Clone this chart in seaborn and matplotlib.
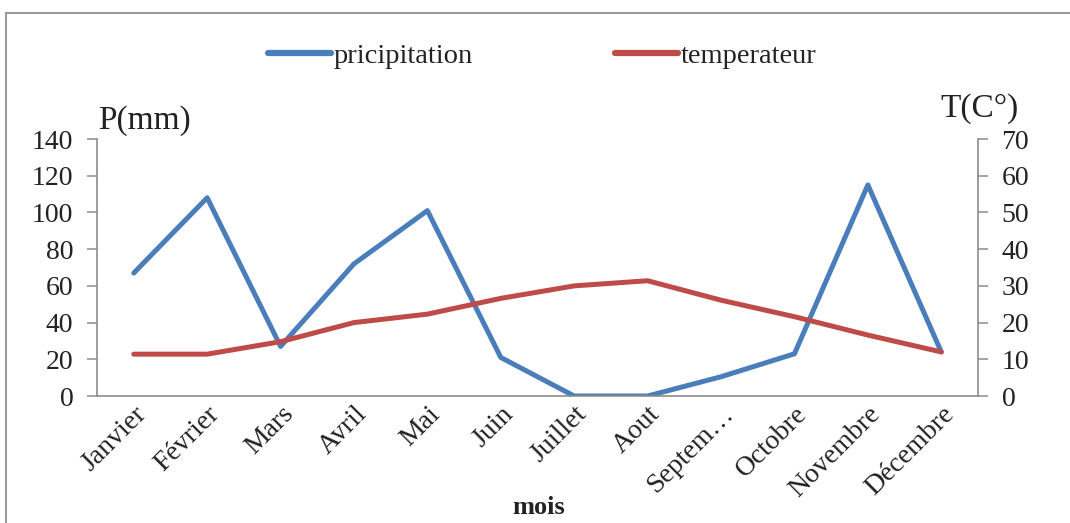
import matplotlib
matplotlib.use("Agg")
import matplotlib.pyplot as plt
import seaborn as sns
import pandas as pd
from matplotlib.patches import Rectangle
from matplotlib.lines import Line2D

# Monthly climate data
mois = ["Janvier", "Février", "Mars", "Avril", "Mai", "Juin", "Juillet",
        "Aout", "Septem…", "Octobre", "Novembre", "Décembre"]
precipitation = [67, 108, 27, 72, 101, 21, 0, 0, 10.5, 23, 115, 24]
temperature = [11.4, 11.4, 14.8, 20, 22.3, 26.6, 30, 31.4, 26.1, 21.6, 16.6, 12]
p_ticks = [0, 20, 40, 60, 80, 100, 120, 140]
t_ticks = [0, 10, 20, 30, 40, 50, 60, 70]

df = pd.DataFrame({"mois": mois, "P": precipitation, "T": temperature})

sns.set_style("white")
plt.rcParams["font.family"] = ["Liberation Serif", "DejaVu Serif"]

BLUE = "#4A7EBB"
RED = "#BE4B48"
GREY = "#8C8C8C"
TXT = "#222222"

fig = plt.figure(figsize=(10.7, 5.23), dpi=100)
ax = fig.add_axes([0.0907, 0.2428, 0.8233, 0.4914])

sns.lineplot(data=df, x="mois", y="P", ax=ax, color=BLUE, lw=3.6,
             sort=False, legend=False)
ax2 = ax.twinx()
sns.lineplot(data=df, x="mois", y="T", ax=ax2, color=RED, lw=3.6,
             sort=False, legend=False)

ax.set_xlim(-0.5, len(mois) - 0.5)
ax.set_ylim(0, 140)
ax2.set_ylim(0, 70)
ax.set_yticks(p_ticks)
ax2.set_yticks(t_ticks)
ax.set_yticklabels([str(v) for v in p_ticks], fontsize=20)
ax2.set_yticklabels([str(v) for v in t_ticks], fontsize=20)
ax.set_xticks(range(len(mois)))
ax.set_xticklabels(mois, rotation=45, ha="right", rotation_mode="anchor",
                   fontsize=20)

ax.set_ylabel("")
ax2.set_ylabel("")
ax.set_xlabel("")

for a in (ax, ax2):
    for s in a.spines.values():
        s.set_visible(False)
ax.spines["left"].set_visible(True)
ax.spines["bottom"].set_visible(True)
ax2.spines["right"].set_visible(True)
for s in (ax.spines["left"], ax.spines["bottom"], ax2.spines["right"]):
    s.set_color(GREY)
    s.set_linewidth(1.2)

ax.tick_params(axis="y", direction="out", length=7, width=1.1, color=GREY,
               left=True, pad=10, labelcolor=TXT)
ax.tick_params(axis="x", length=0, pad=4, labelcolor=TXT)
ax2.tick_params(axis="y", direction="out", length=7, width=1.1, color=GREY,
                right=True, pad=10, labelcolor=TXT)

# Category axis title, kept clear of the bottom edge
fig.text(0.503, 0.03, "mois", fontsize=19, fontweight="bold",
         ha="center", va="center", color=TXT)

# Axis titles above each vertical axis
fig.text(0.092, 0.77, "P(mm)", fontsize=24, ha="left", va="center",
         color=TXT)
fig.text(0.915, 0.793, "T(C°)", fontsize=24, ha="center", va="center",
         color=TXT)

# Legend across the top
handles = [Line2D([], [], color=BLUE, lw=4.5),
           Line2D([], [], color=RED, lw=4.5)]
fig.legend(handles, ["pricipitation", "temperateur"], loc="center",
           bbox_to_anchor=(0.507, 0.893), ncol=2, frameon=False,
           fontsize=20.5, handlelength=2.2, handletextpad=0.1,
           columnspacing=5.0, labelcolor=TXT)

# Chart border
fig.patches.append(Rectangle((0.006, -0.02), 1.2, 0.996,
                             transform=fig.transFigure, fill=False,
                             edgecolor="#9A9A9A", lw=1.5))

fig.savefig("out.png", dpi=100)
